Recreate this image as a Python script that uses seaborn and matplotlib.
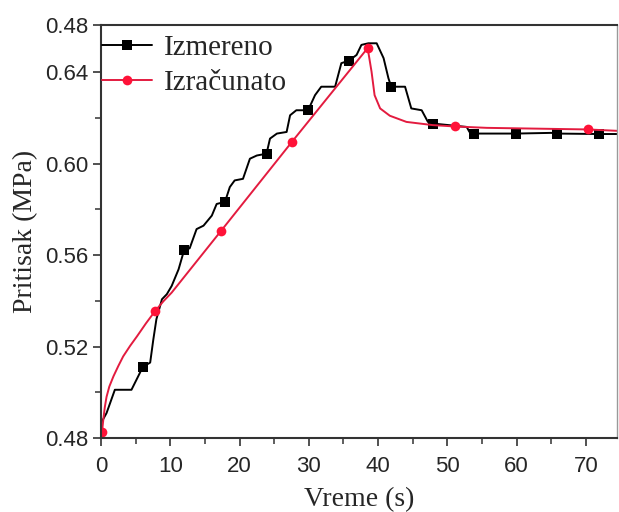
import matplotlib
matplotlib.use("Agg")
import matplotlib.pyplot as plt
import seaborn as sns
import pandas as pd

# ---- data ----
measured_t = [0, 0.8, 2.0, 4.4, 5.6, 6.0, 7.1, 7.55, 8.0, 8.8, 9.5, 10.2, 11.2, 12.0,
              12.8, 13.8, 14.8, 16.0, 16.7, 17.9, 18.6, 19.3, 20.5, 21.5, 22.5, 23.9,
              24.4, 25.4, 26.8, 27.3, 28.2, 29.9, 30.9, 31.8, 33.8, 34.7, 35.8, 36.9,
              37.6, 38.6, 39.8, 40.8, 41.5, 41.9, 43.9, 44.8, 46.3, 47.2, 47.9, 52.8,
              53.2, 53.8, 59.9, 65.0, 65.8, 71.9, 74.5]
measured_p = [0.4865, 0.4909, 0.5011, 0.5011, 0.5084, 0.5110, 0.5130, 0.5230, 0.5320,
              0.5407, 0.5429, 0.5465, 0.5538, 0.5622, 0.5630, 0.5714, 0.5729, 0.5773,
              0.5824, 0.5833, 0.5898, 0.5927, 0.5934, 0.6022, 0.6036, 0.6044, 0.6110,
              0.6132, 0.6139, 0.6212, 0.6234, 0.6234, 0.6300, 0.6337, 0.6337, 0.6440,
              0.6451, 0.6476, 0.6520, 0.6527, 0.6527, 0.6462, 0.6374, 0.6337, 0.6337,
              0.6242, 0.6234, 0.6183, 0.6176, 0.6161, 0.6139, 0.6132, 0.6132, 0.6135,
              0.6132, 0.6130, 0.6130]
measured_marks = [6.0, 12.0, 17.9, 23.9, 29.9, 35.8, 41.9, 47.9, 53.8, 59.9, 65.8, 71.9]

calc_t = [0, 0.15, 0.35, 0.55, 0.8, 1.2, 1.8, 2.5, 3.2, 4.2, 5.2, 6.5, 7.8, 9.0, 10.2,
          17.3, 27.6, 38.5, 39.06, 39.5, 40.3, 41.7, 44.1, 47.9, 51.1, 55.7, 70.3, 74.5]
calc_p = [0.480, 0.4828, 0.4885, 0.4935, 0.4980, 0.5025, 0.5070, 0.5115, 0.5157, 0.5203,
          0.5245, 0.5302, 0.5355, 0.5398, 0.5436, 0.5705, 0.6097, 0.6506, 0.6403,
          0.6300, 0.6242, 0.6210, 0.6183, 0.6169, 0.6163, 0.6157, 0.6150, 0.6144]
calc_marks = [0.15, 7.8, 17.3, 27.6, 38.5, 51.1, 70.3]

x_ticks = [0, 10, 20, 30, 40, 50, 60, 70]
y_ticks = [0.48, 0.52, 0.56, 0.60, 0.64, 0.6607]
y_tick_labels = ["0.48", "0.52", "0.56", "0.60", "0.64", "0.48"]

# ---- plotting ----
sns.set_style("white")
plt.rcParams["font.family"] = ["Liberation Sans", "DejaVu Sans"]

fig = plt.figure(figsize=(6.19, 5.12), dpi=100)
ax = fig.add_axes([101 / 619, 74 / 512, 516 / 619, 413 / 512])

df_m = pd.DataFrame({"t": measured_t, "p": measured_p})
df_c = pd.DataFrame({"t": calc_t, "p": calc_p})
idx_m = [i for i, t in enumerate(measured_t) if t in measured_marks]
idx_c = [i for i, t in enumerate(calc_t) if t in calc_marks]

sns.lineplot(data=df_m, x="t", y="p", ax=ax, color="black", lw=1.4,
             marker="s", markersize=6.5, markevery=idx_m, markeredgewidth=0,
             estimator=None, sort=False, label="Izmereno")
sns.lineplot(data=df_c, x="t", y="p", ax=ax, color="#e31b3f", lw=1.4,
             marker="o", markersize=7, markevery=idx_c, markeredgewidth=0,
             markerfacecolor="#ff1238", estimator=None, sort=False, label="Izračunato")

ax.set_xlim(0, 74.5)
ax.set_ylim(0.48, 0.6607)
ax.set_xticks(x_ticks)
ax.set_xticks([5, 15, 25, 35, 45, 55, 65], minor=True)
ax.set_yticks(y_ticks)
ax.set_yticklabels(y_tick_labels)
ax.set_yticks([0.50, 0.54, 0.58, 0.62], minor=True)

ax.tick_params(axis="both", which="major", direction="out", length=6, width=1.2,
               color="#333333", labelsize=16, pad=3)
ax.tick_params(axis="x", which="major", pad=7)
ax.tick_params(axis="both", which="minor", direction="out", length=4, width=1.1,
               color="#333333")
ax.tick_params(left=True, bottom=True, which="both")

for name, sp in ax.spines.items():
    sp.set_visible(True)
    sp.set_color("#333333")
    sp.set_linewidth(1.5)
ax.spines["right"].set_color("#999999")
ax.spines["right"].set_linewidth(1.0)

ax.set_xlabel("Vreme (s)", fontsize=20, family=["Liberation Serif", "DejaVu Serif"])
ax.set_ylabel("Pritisak (MPa)", fontsize=20, family=["Liberation Serif", "DejaVu Serif"])
ax.xaxis.set_label_coords(0.5, -0.118)
ax.yaxis.set_label_coords(-0.122, 0.5)

leg = ax.legend(loc="upper left", frameon=False,
                prop={"family": ["Liberation Serif", "DejaVu Serif"], "size": 21},
                handlelength=1.7, handletextpad=0.42, borderaxespad=0.0,
                borderpad=0.33, labelspacing=0.3)
leg.set_bbox_to_anchor((-0.016, 1.0), transform=ax.transAxes)

fig.savefig("out.png", dpi=100)
